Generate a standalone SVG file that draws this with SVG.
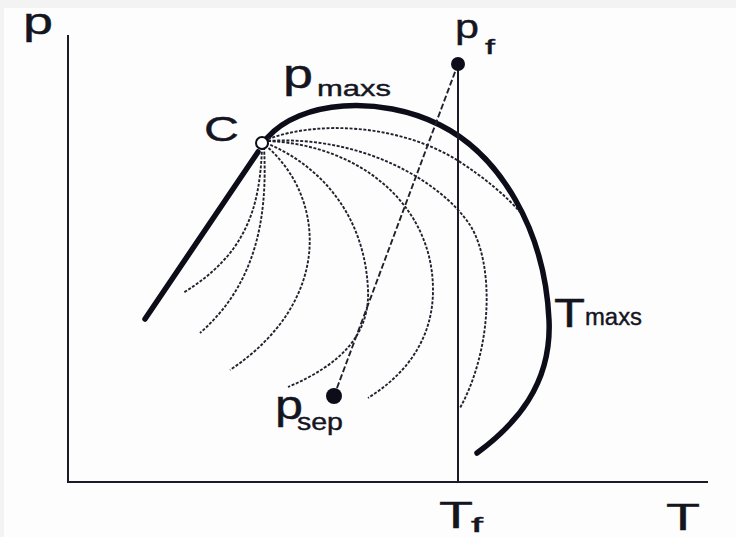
<svg xmlns="http://www.w3.org/2000/svg" width="736" height="537" viewBox="0 0 736 537">
<style>
.ax{stroke:#1c1c28;stroke-width:2;fill:none}
.thick{stroke:#0d0d1a;stroke-width:5.5;fill:none;stroke-linecap:round}
.dash{stroke:#22222e;stroke-width:1.9;fill:none;stroke-dasharray:3 1.6}
.tie{stroke:#22222e;stroke-width:1.9;fill:none;stroke-dasharray:6 2.5}
text{font-family:"Liberation Sans",Arial,sans-serif;fill:#15151f;stroke:#15151f;stroke-width:0.4}
</style>
<rect x="0" y="0" width="736" height="537" fill="#f3f3f4"/>
<rect x="4" y="8" width="732" height="529" fill="#fdfdfd"/>
<g id="axes">
<path class="ax" d="M68,35 V482 H708"/>
<text x="23" y="34" font-size="37" textLength="30" lengthAdjust="spacingAndGlyphs">p</text>
<text x="666" y="530" font-size="36" textLength="34" lengthAdjust="spacingAndGlyphs">T</text>
</g>
<g id="connectors">
<path id="bubble" class="thick" d="M258,152 L145,319"/>
<path id="dew" class="thick" d="M267,138 C300,100 380,95 440,125 C500,155 545,230 549,320 C552,385 515,425 477,453"/>
<path class="dash" d="M262,147 C260,210 245,255 183,293"/>
<path class="dash" d="M264,147 C268,220 255,285 200,333"/>
<path class="dash" d="M265,145 C325,195 335,300 230,370"/>
<path class="dash" d="M266,143 C320,165 365,215 368,290 C370,335 340,365 288,387"/>
<path class="dash" d="M268,141 C360,145 433,205 433,290 C433,340 405,375 368,398"/>
<path class="dash" d="M268,141 C360,135 440,180 470,225 C495,265 492,350 460,408"/>
<path class="dash" d="M268,139 C320,120 400,125 457,160 C485,178 505,195 520,212"/>
<path id="Tf-line" class="ax" d="M458,64 V482"/>
<path id="tie-line" class="tie" d="M334,396 L458,64"/>
</g>
<g id="C">
<circle cx="262" cy="143" r="6" fill="#ffffff" stroke="#0d0d1a" stroke-width="2"/>
<text x="204" y="141" font-size="35" textLength="35" lengthAdjust="spacingAndGlyphs">C</text>
</g>
<g id="pf">
<circle cx="458" cy="64" r="7" fill="#0d0d1a"/>
<text x="455" y="38" font-size="34" textLength="24" lengthAdjust="spacingAndGlyphs">p</text>
<text x="485" y="54" font-size="21" textLength="10" lengthAdjust="spacingAndGlyphs">f</text>
</g>
<g id="psep">
<circle cx="334" cy="396" r="8" fill="#0d0d1a"/>
<text x="275" y="419" font-size="40" textLength="28" lengthAdjust="spacingAndGlyphs">p</text>
<text x="297" y="430" font-size="23" textLength="46" lengthAdjust="spacingAndGlyphs">sep</text>
</g>
<g id="pmaxs">
<text x="283" y="88" font-size="40" textLength="30" lengthAdjust="spacingAndGlyphs">p</text>
<text x="317" y="96" font-size="22" textLength="74" lengthAdjust="spacingAndGlyphs">maxs</text>
</g>
<g id="Tmaxs">
<text x="554" y="327" font-size="40" textLength="31" lengthAdjust="spacingAndGlyphs">T</text>
<text x="585" y="325" font-size="23" textLength="57" lengthAdjust="spacingAndGlyphs">maxs</text>
</g>
<g id="Tf">
<text x="439" y="528" font-size="36" textLength="34" lengthAdjust="spacingAndGlyphs">T</text>
<text x="471" y="532" font-size="20" textLength="12" lengthAdjust="spacingAndGlyphs">f</text>
</g>
</svg>
